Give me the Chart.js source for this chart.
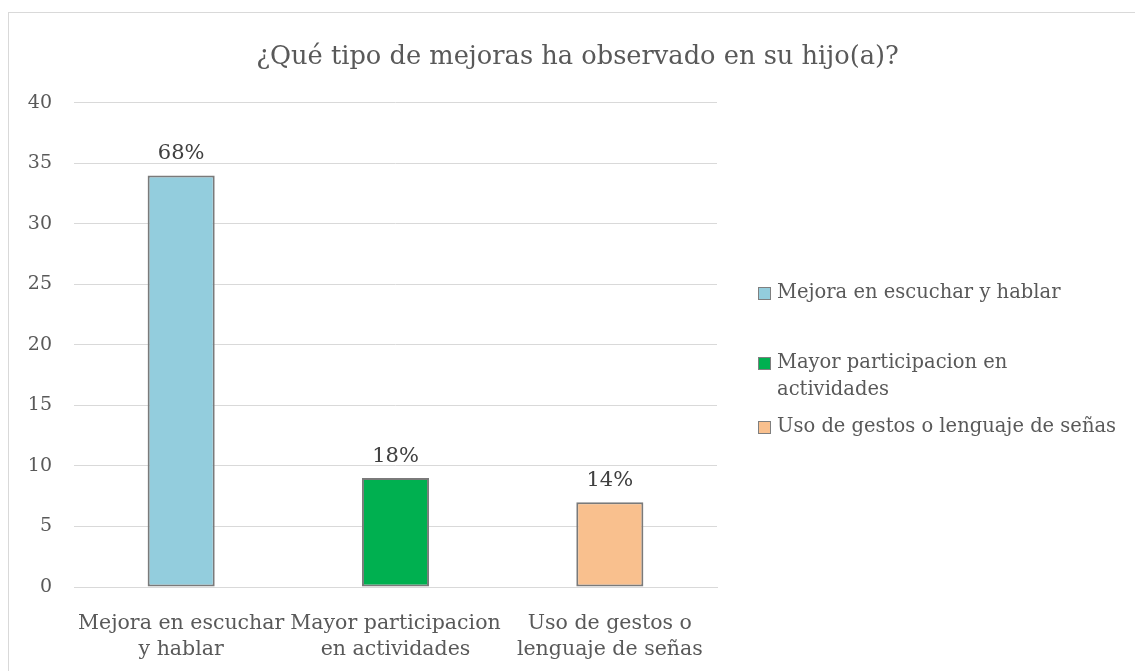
<!DOCTYPE html>
<html lang="es">
<head>
  <meta charset="UTF-8" />
  <title>¿Qué tipo de mejoras ha observado en su hijo(a)?</title>
  <script src="https://cdn.jsdelivr.net/npm/chart.js"></script>
  <style>
    html, body { margin: 0; padding: 0; background: #fff; overflow: hidden; }
    .frame { position: absolute; left: 8px; top: 12px; width: 1200px; height: 700px; border: 1px solid #d9d9d9; }
    .wrap { position: absolute; left: 0; top: 0; width: 1135px; height: 671px; }
  </style>
</head>
<body>
<div class="frame"></div>
<div class="wrap"><canvas id="chart"></canvas></div>

<script>
  // data
  const categories = ['Mejora en escuchar y hablar', 'Mayor participacion en actividades', 'Uso de gestos o lenguaje de señas'];
  const axisLabels = [['Mejora en escuchar', 'y hablar'], ['Mayor participacion', 'en actividades'], ['Uso de gestos o', 'lenguaje de señas']];
  const legendLines = [['Mejora en escuchar y hablar'], ['Mayor participacion en', 'actividades'], ['Uso de gestos o lenguaje de señas']];
  const counts = [34, 9, 7];
  const pctLabels = ['68%', '18%', '14%'];
  const barColors = ['#93cddd', '#00b050', '#f9c08e'];

  const SERIF = "'DejaVu Serif', serif";
  const GREY = '#595959';

  // reserves the right-hand strip and draws the legend in it
  const sideLegend = {
    id: 'sideLegend',
    start(chart) {
      const box = {
        position: 'right', weight: 0, fullSize: false, options: {},
        left: 0, top: 0, right: 0, bottom: 0, width: 0, height: 0,
        isHorizontal() { return false; },
        getPadding() { return { left: 0, top: 0, right: 0, bottom: 0 }; },
        update(maxW, maxH) { this.width = 418; this.height = maxH; },
        draw() {
          const ctx = chart.ctx;
          const ys = [293, 363, 427];
          const lh = 27;
          ctx.save();
          ctx.font = '19.5px ' + SERIF;
          ctx.textBaseline = 'middle';
          ctx.textAlign = 'left';
          legendLines.forEach((lines, i) => {
            const x = this.left + 41;
            ctx.fillStyle = barColors[i];
            ctx.fillRect(x, ys[i] - 6, 13, 13);
            ctx.strokeStyle = '#7f7f7f';
            ctx.lineWidth = 1;
            ctx.strokeRect(x + 0.5, ys[i] - 5.5, 12, 12);
            ctx.fillStyle = GREY;
            lines.forEach((t, j) => ctx.fillText(t, x + 19, ys[i] + j * lh));
          });
          ctx.restore();
        }
      };
      chart.$sideLegend = box;
      Chart.layouts.addBox(chart, box);
    },
    stop(chart) { Chart.layouts.removeBox(chart, chart.$sideLegend); }
  };

  // percentage labels above the bars
  const barLabels = {
    id: 'barLabels',
    afterDatasetsDraw(chart) {
      const ctx = chart.ctx;
      const meta = chart.getDatasetMeta(0);
      ctx.save();
      ctx.font = '21px ' + SERIF;
      ctx.fillStyle = '#404040';
      ctx.textAlign = 'center';
      ctx.textBaseline = 'middle';
      meta.data.forEach((bar, i) => ctx.fillText(pctLabels[i], bar.x, bar.y - 22));
      ctx.restore();
    }
  };

  new Chart(document.getElementById('chart'), {
    type: 'bar',
    data: {
      labels: axisLabels,
      datasets: [{
        label: 'Respuestas',
        data: counts,
        backgroundColor: barColors,
        borderColor: '#7a7a7a',
        borderWidth: 2,
        borderSkipped: false,
        barPercentage: 1,
        categoryPercentage: 0.313
      }]
    },
    options: {
      responsive: true,
      maintainAspectRatio: false,
      animation: false,
      layout: { padding: { left: 20, right: 0, top: 0, bottom: 0 } },
      plugins: {
        legend: { display: false },
        tooltip: { enabled: false },
        title: {
          display: true,
          text: '¿Qué tipo de mejoras ha observado en su hijo(a)?',
          color: GREY,
          font: { family: SERIF, size: 25.7, weight: 'normal', lineHeight: 1.2 },
          padding: { top: 42, bottom: 30 }
        }
      },
      scales: {
        x: {
          grid: { display: false, drawTicks: false },
          border: { display: true, color: '#d9d9d9', width: 1 },
          ticks: {
            color: GREY,
            font: { family: SERIF, size: 20.5, lineHeight: 1.27 },
            padding: 24,
            maxRotation: 0,
            autoSkip: false
          },
          afterFit(scale) { scale.height = 84; }
        },
        y: {
          min: 0,
          max: 40,
          ticks: {
            stepSize: 5,
            color: GREY,
            font: { family: SERIF, size: 19 },
            padding: 22
          },
          grid: { color: '#d9d9d9', lineWidth: 1, drawTicks: false },
          border: { display: false },
          afterFit(scale) { scale.width = 54; }
        }
      }
    },
    plugins: [sideLegend, barLabels]
  });
</script>
</body>
</html>
